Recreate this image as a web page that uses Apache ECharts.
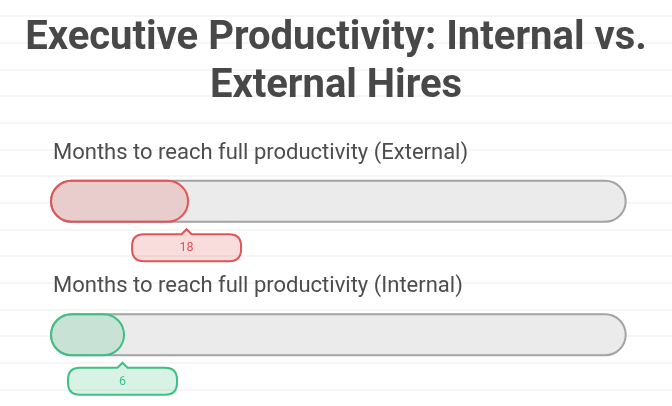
<!DOCTYPE html>
<html>
<head>
<meta charset="utf-8">
<script src="https://cdn.jsdelivr.net/npm/echarts@6/dist/echarts.min.js"></script>
<style>
html,body{margin:0;padding:0;background:#fff;}
#chart{width:672px;height:406px;}
</style>
</head>
<body>
<div id="chart"></div>
<script>
const titleText = 'Executive Productivity: Internal vs.\nExternal Hires';
const categories = ['Months to reach full productivity (External)', 'Months to reach full productivity (Internal)'];
const values = [18, 6];
const maxValue = 100;
const strokeColors = ['#e05555', '#3cc184'];
const fillColors = ['rgba(224,85,85,0.2)', 'rgba(60,193,132,0.2)'];
const ruleLines = [0,1,2,3,4,5,6,7,8,9,10,11,12,13,14];

const BAR_H = 41;
const R = BAR_H / 2;

const chart = echarts.init(document.getElementById('chart'), null, {renderer: 'canvas'});

function renderItem(params, api) {
  const idx = params.dataIndex;
  const v = api.value(0);
  const cat = api.value(1);
  const p0 = api.coord([0, cat]);
  const pMax = api.coord([maxValue, cat]);
  const pV = api.coord([v, cat]);
  const cy = p0[1];
  const x0 = p0[0] - R;
  const trackW = pMax[0] - p0[0] + BAR_H;
  const fillW = pV[0] - p0[0] + BAR_H;
  const fillEnd = x0 + fillW;
  const cx = fillEnd - 1.5;
  const w = 109, h = 27, r = 12, t = cy + 33, aw = 5, ah = 5;
  const L = cx - w / 2, Rt = cx + w / 2, B = t + h;
  const path = 'M' + (L + r) + ' ' + t +
    ' L' + (cx - aw) + ' ' + t + ' L' + cx + ' ' + (t - ah) + ' L' + (cx + aw) + ' ' + t +
    ' L' + (Rt - r) + ' ' + t + ' Q' + Rt + ' ' + t + ' ' + Rt + ' ' + (t + r) +
    ' L' + Rt + ' ' + (B - r) + ' Q' + Rt + ' ' + B + ' ' + (Rt - r) + ' ' + B +
    ' L' + (L + r) + ' ' + B + ' Q' + L + ' ' + B + ' ' + L + ' ' + (B - r) +
    ' L' + L + ' ' + (t + r) + ' Q' + L + ' ' + t + ' ' + (L + r) + ' ' + t + ' Z';
  return {
    type: 'group',
    children: [
      {
        type: 'text',
        style: {
          text: categories[idx], x: x0 + 2, y: cy - 48,
          fill: '#4d4d4d', font: '22px Roboto', textAlign: 'left', textVerticalAlign: 'middle'
        }
      },
      {
        type: 'rect',
        shape: {x: x0, y: cy - R, width: trackW, height: BAR_H, r: R},
        style: {fill: '#ebebeb', stroke: '#a3a3a3', lineWidth: 2}
      },
      {
        type: 'rect',
        shape: {x: x0, y: cy - R, width: fillW, height: BAR_H, r: R},
        style: {fill: fillColors[idx], stroke: strokeColors[idx], lineWidth: 2}
      },
      {
        type: 'path',
        shape: {pathData: path},
        style: {fill: fillColors[idx], stroke: strokeColors[idx], lineWidth: 2}
      },
      {
        type: 'text',
        style: {
          text: String(v), x: cx, y: t + h / 2 + 0.5,
          fill: strokeColors[idx], font: '12.5px Roboto', textAlign: 'center', textVerticalAlign: 'middle'
        }
      }
    ]
  };
}

chart.setOption({
  animation: false,
  backgroundColor: '#ffffff',
  title: {
    text: titleText,
    left: 'center',
    top: 10,
    padding: [5, 13, 5, 5],
    textStyle: {fontFamily: 'Roboto', fontSize: 40, fontWeight: 'bold', color: '#484848', lineHeight: 48}
  },
  grid: [
    {left: 0, right: 0, top: 16, height: 373.33},
    {left: 71.5, right: 66.8, top: 134.5, height: 267}
  ],
  xAxis: [
    {gridIndex: 0, type: 'value', show: false},
    {gridIndex: 1, type: 'value', min: 0, max: maxValue, show: false}
  ],
  yAxis: [
    {gridIndex: 0, type: 'value', min: 0, max: ruleLines.length - 1, interval: 1,
     axisLine: {show: false}, axisTick: {show: false}, axisLabel: {show: false},
     splitLine: {show: true, lineStyle: {color: '#f3f3f3', width: 1.5}}},
    {gridIndex: 1, type: 'category', data: categories, inverse: true, show: false}
  ],
  series: [
    {
      type: 'custom',
      xAxisIndex: 1,
      yAxisIndex: 1,
      renderItem: renderItem,
      data: values.map((v, i) => [v, i]),
      z: 5
    }
  ]
});
</script>
</body>
</html>
